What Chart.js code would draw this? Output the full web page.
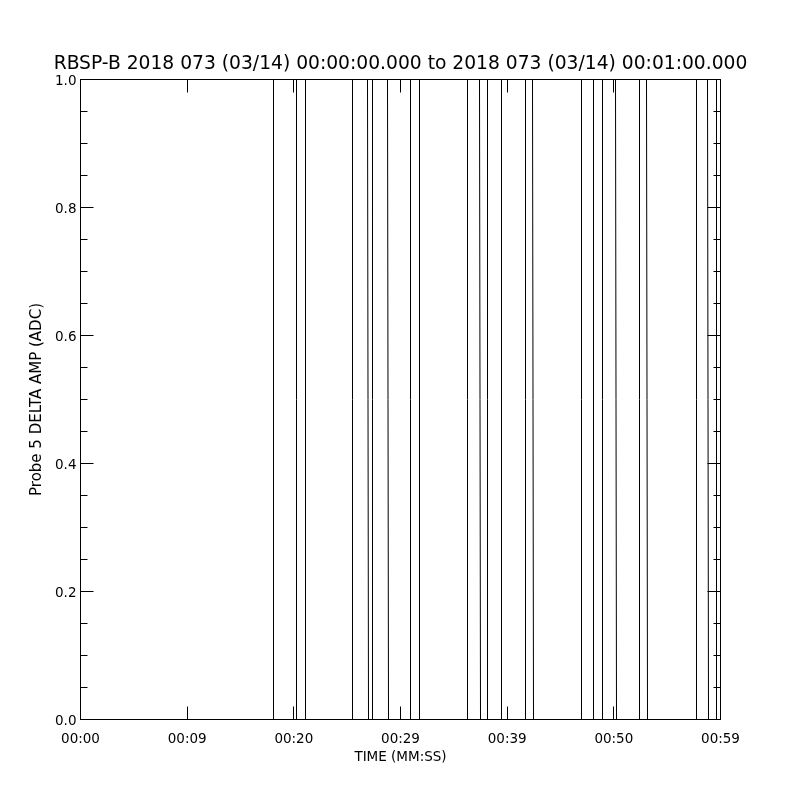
<!DOCTYPE html>
<html>
<head>
<meta charset="utf-8">
<script src="https://cdn.jsdelivr.net/npm/chart.js@4/dist/chart.umd.min.js"></script>
<style>
  html, body { margin: 0; padding: 0; background: #fff; }
</style>
</head>
<body>
<canvas id="chart" width="800" height="800"></canvas>
<script>
const TITLE = "RBSP-B 2018 073 (03/14) 00:00:00.000 to 2018 073 (03/14) 00:01:00.000";
const X_TITLE = "TIME (MM:SS)";
const Y_TITLE = "Probe 5 DELTA AMP (ADC)";

const xTickValues = [0, 10, 20, 30, 40, 50, 60];
const xTickLabels = ["00:00", "00:09", "00:20", "00:29", "00:39", "00:50", "00:59"];
const yTickLabels = ["0.0", "0.2", "0.4", "0.6", "0.8", "1.0"];

// seconds after 00:00:00 and the sampled amplitude
const sampleTimes = [
  0, 18.09375, 18.09375, 20.25, 20.25, 21.09375, 21.09375, 25.5, 25.5,
  26.90625, 27.0, 27.375, 27.375, 28.78125, 28.875, 30.9375, 30.9375,
  31.78125, 31.78125, 36.28125, 36.28125, 37.40625, 37.5, 38.15625, 38.15625,
  39.46875, 39.46875, 41.71875, 41.71875, 42.375, 42.46875, 46.96875, 46.96875,
  48.09375, 48.09375, 48.9375, 48.9375, 50.15625, 50.25, 52.40625, 52.40625,
  53.0625, 53.15625, 57.75, 57.75, 58.78125, 58.875, 59.625, 59.625, 59.95,
];
const sampleValues = [
  1, 1, 0, 0, 1, 1, 0, 0, 1,
  1, 0, 0, 1, 1, 0, 0, 1,
  1, 0, 0, 1, 1, 0, 0, 1,
  1, 0, 0, 1, 1, 0, 0, 1,
  1, 0, 0, 1, 1, 0, 0, 1,
  1, 0, 0, 1, 1, 0, 0, 1, 1,
];

const FONT_FAMILY = '"DejaVu Sans", sans-serif';

const idlFramePlugin = {
  id: "idlFrame",
  afterDraw(chart) {
    const { ctx, chartArea: a } = chart;
    const xs = chart.scales.x;
    const ys = chart.scales.y;

    ctx.save();
    ctx.strokeStyle = "#000";
    ctx.lineWidth = 1;
    ctx.strokeRect(a.left, a.top, a.right - a.left, a.bottom - a.top);

    ctx.beginPath();
    // x ticks, inward on top and bottom
    xTickValues.forEach((v) => {
      const px = Math.floor(xs.getPixelForValue(v)) + 0.5;
      ctx.moveTo(px, a.bottom);
      ctx.lineTo(px, a.bottom - 13);
      ctx.moveTo(px, a.top);
      ctx.lineTo(px, a.top + 13);
    });
    // y ticks, major every 0.2, minor every 0.05
    ys.ticks.forEach((t) => {
      const k = Math.round(t.value * 100);
      const len = k % 20 === 0 ? 13 : 7;
      const py = Math.floor(ys.getPixelForValue(t.value)) + 0.5;
      ctx.moveTo(a.left, py);
      ctx.lineTo(a.left + len, py);
      ctx.moveTo(a.right, py);
      ctx.lineTo(a.right - len, py);
    });
    ctx.stroke();

    ctx.fillStyle = "#000";
    ctx.font = "18.7px " + FONT_FAMILY;
    ctx.textAlign = "center";
    ctx.textBaseline = "middle";
    ctx.fillText(TITLE, (a.left + a.right) / 2, 64);
    ctx.restore();
  },
};

new Chart(document.getElementById("chart"), {
  type: "line",
  data: {
    datasets: [
      {
        data: sampleTimes.map((t, i) => ({ x: t, y: sampleValues[i] })),
        borderColor: "#000",
        borderWidth: 1,
        pointRadius: 0,
        tension: 0,
        fill: false,
      },
    ],
  },
  plugins: [idlFramePlugin],
  options: {
    responsive: false,
    animation: false,
    devicePixelRatio: 1,
    layout: { padding: { top: 79.5, right: 79.5, left: 0, bottom: 0 } },
    plugins: {
      legend: { display: false },
      tooltip: { enabled: false },
    },
    scales: {
      x: {
        type: "linear",
        min: 0,
        max: 60,
        afterFit(scale) {
          scale.height = 80.5;
        },
        afterBuildTicks(scale) {
          scale.ticks = xTickValues.map((v) => ({ value: v }));
        },
        ticks: {
          autoSkip: false,
          maxRotation: 0,
          padding: 12,
          color: "#000",
          font: { family: FONT_FAMILY, size: 13.5 },
          callback: (v) => xTickLabels[xTickValues.indexOf(v)] ?? "",
        },
        grid: { display: false, drawTicks: false },
        border: { display: false },
        title: {
          display: true,
          text: X_TITLE,
          color: "#000",
          font: { family: FONT_FAMILY, size: 13.5 },
          padding: { top: 0, bottom: 34 },
        },
      },
      y: {
        min: 0,
        max: 1,
        afterFit(scale) {
          scale.width = 80.5;
        },
        ticks: {
          stepSize: 0.05,
          autoSkip: false,
          padding: 4,
          labelOffset: 1.5,
          color: "#000",
          font: { family: FONT_FAMILY, size: 13.5 },
          callback: (v) => {
            const k = Math.round(v * 100);
            return k % 20 === 0 ? yTickLabels[k / 20] : "";
          },
        },
        grid: { display: false, drawTicks: false },
        border: { display: false },
        title: {
          display: true,
          text: Y_TITLE,
          color: "#000",
          font: { family: FONT_FAMILY, size: 15 },
          padding: { top: 28, bottom: 0 },
        },
      },
    },
  },
});
</script>
</body>
</html>
